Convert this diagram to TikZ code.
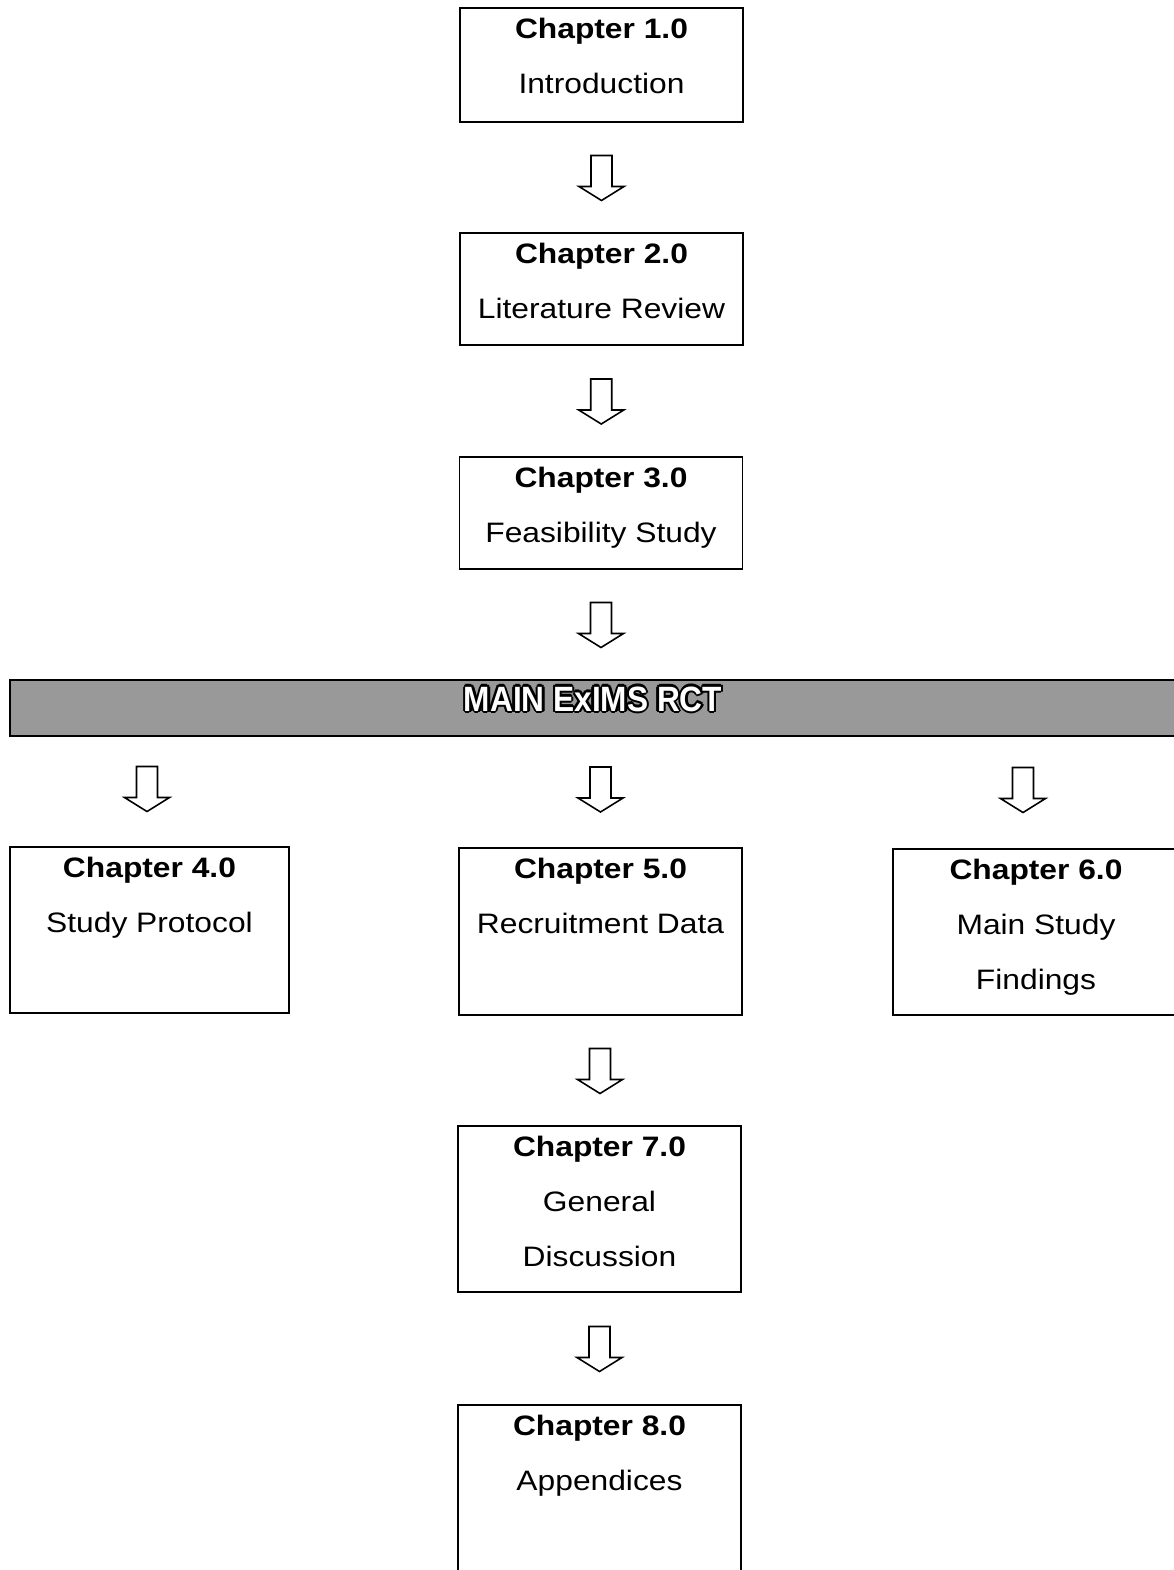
\documentclass[tikz,border=0pt]{standalone}
\usepackage{fontspec}
\setmainfont{Liberation Sans}[FakeStretch=1.13]
\newfontfamily\bannerfont{Liberation Sans}[FakeStretch=0.9]
\usetikzlibrary{calc,positioning}
\tikzset{
	x=0.02cm,
	y=-0.02cm,
	chapbox/.style={draw, line width=1.1pt, minimum width=5.66cm, inner sep=0pt},
	chaptext/.style={align=center, anchor=north, inner sep=0pt, font=\fontsize{16}{31.3}\selectfont},
	bannertext/.style={anchor=base, inner sep=0pt, font=\bannerfont\bfseries\fontsize{20}{24}\selectfont},
	hollowarrow/.pic={
		\draw[line width=0.9pt, fill=white, line join=miter]
			(-10.5,-22) -- (10.5,-22) -- (10.5,9) -- (22.5,9) -- (0,23)
			-- (-22.5,9) -- (-10.5,9) -- cycle;
	},
}

\begin{document}
\begin{tikzpicture}
	\clip (0,0) rectangle (1174,1570);
	\fill[white] (0,0) rectangle (1174,1570);

	% first three chapters
	\node[chapbox, minimum height=2.28cm] (c1) at (601.5,65) {};
	\node[chapbox, minimum height=2.24cm] (c2) at (601.5,289) {};
	\node[chapbox, minimum height=2.24cm] (c3) at (601,513) {};
	\node[chaptext] (t1) at ($(c1.north)+(0,11)$) {\textbf{Chapter 1.0}\\Introduction};
	\node[chaptext] (t2) at ($(c2.north)+(0,11)$) {\textbf{Chapter 2.0}\\Literature Review};
	\node[chaptext] (t3) at ($(c3.north)+(0,11)$) {\textbf{Chapter 3.0}\\Feasibility Study};
	\pic at ($(c1.south)!0.5!(c2.north)$) {hollowarrow};
	\pic at ($(c2.south)!0.5!(c3.north)$) {hollowarrow};

	% banner
	\node[draw, line width=1.1pt, fill=black!40, minimum width=23.6cm, minimum height=1.12cm, inner sep=0pt] (banner) at (600,708) {};
	\pic at ($(c3.south)!0.5!(banner.north -| c3.south)$) {hollowarrow};
	\coordinate (bannermid) at (593,711);
	\foreach \a in {0,45,...,315}
		\node[bannertext, text=black] (sh\a) at ($(bannermid)+(\a:2.2)$) {MAIN ExIMS RCT};
	\node[bannertext, text=white] (bannerlabel) at (bannermid) {MAIN ExIMS RCT};

	% the three parts of the main study
	\node[chapbox, minimum width=5.58cm, minimum height=3.32cm] (c4) at (149.5,930) {};
	\node[chapbox, minimum height=3.34cm] (c5) at (600.5,931.5) {};
	\node[chapbox, minimum width=5.72cm, minimum height=3.32cm] (c6) at (1036,932) {};
	\node[chaptext] (t4) at ($(c4.north)+(0,11)$) {\textbf{Chapter 4.0}\\Study Protocol};
	\node[chaptext] (t5) at ($(c5.north)+(0,11)$) {\textbf{Chapter 5.0}\\Recruitment Data};
	\node[chaptext] (t6) at ($(c6.north)+(0,11)$) {\textbf{Chapter 6.0}\\Main Study\\Findings};
	\pic at ($(banner.south -| c4.north)!0.5!(c4.north)+(-2.5,-3)$) {hollowarrow};
	\pic at ($(banner.south -| c5.north)!0.5!(c5.north)+(0,-3)$) {hollowarrow};
	\pic at ($(banner.south -| c6.north)!0.5!(c6.north)+(-13,-3)$) {hollowarrow};

	% discussion and appendices
	\node[chapbox, minimum height=3.32cm] (c7) at (599.5,1209) {};
	\node[chapbox, minimum height=3.9cm] (c8) at (599.5,1502.5) {};
	\node[chaptext] (t7) at ($(c7.north)+(0,11)$) {\textbf{Chapter 7.0}\\General\\Discussion};
	\node[chaptext] (t8) at ($(c8.north)+(0,11)$) {\textbf{Chapter 8.0}\\Appendices};
	\pic at ($(c5.south)!0.5!(c7.north)$) {hollowarrow};
	\pic at ($(c7.south)!0.5!(c8.north)$) {hollowarrow};
\end{tikzpicture}
\end{document}
